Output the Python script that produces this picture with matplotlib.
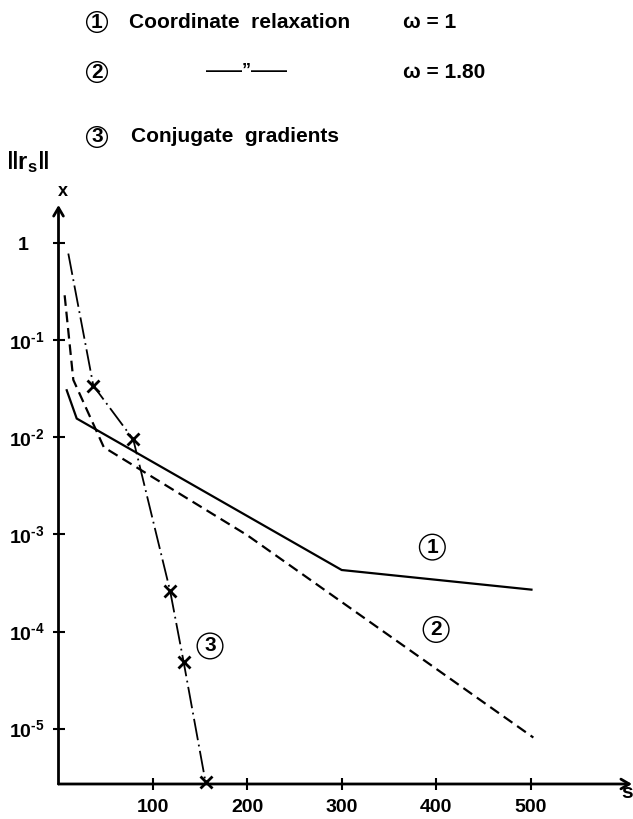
import numpy as np
import matplotlib.pyplot as plt
from matplotlib.ticker import NullLocator

plt.rcParams['font.family'] = ['Liberation Sans', 'DejaVu Sans']
plt.rcParams['mathtext.fontset'] = 'custom'
plt.rcParams['mathtext.rm'] = 'Liberation Sans:bold'
plt.rcParams['mathtext.bf'] = 'Liberation Sans:bold'
plt.rcParams['mathtext.it'] = 'Liberation Sans:italic'

# curve 1: coordinate relaxation, omega = 1
s_relax1 = [8.7, 19.3, 300, 501]
r_relax1 = [3.05e-2, 1.56e-2, 4.3e-4, 2.7e-4]

# curve 2: coordinate relaxation, omega = 1.80
s_relax2 = [6.5, 15.7, 48, 200, 503]
r_relax2 = [2.9e-1, 3.9e-2, 7.9e-3, 9.8e-4, 8.1e-6]

# curve 3: conjugate gradients (crosses on all but the first point)
s_cg = [10.4, 36.9, 79.2, 118.3, 132.5, 155.8]
r_cg = [7.8e-1, 3.4e-2, 9.5e-3, 2.6e-4, 4.9e-5, 2.8e-6]

x_ticks = [100, 200, 300, 400, 500]
y_ticks = [1, 1e-1, 1e-2, 1e-3, 1e-4, 1e-5]
y_labels = ['1   ', '10$^{\u2010 1}$', '10$^{\u2010 2}$', '10$^{\u2010 3}$',
            '10$^{\u2010 4}$', '10$^{\u2010 5}$']

# in-plot curve labels (s, r)
curve_labels = ['1', '2', '3']
label_pos = [(396, 7.4e-4), (400, 1.05e-4), (160.5, 7.1e-5)]

W, H = 633, 819
fig = plt.figure(figsize=(W / 100, H / 100), dpi=100)
ax = fig.add_axes([58.5 / W, 35 / H, (632 - 58.5) / W, (784 - 205) / H])
ax.set_yscale('log')
ax.set_xlim(0, 607.5)
ax.set_ylim(10 ** -5.57, 10 ** 0.392)

ax.plot(s_relax1, r_relax1, color='black', lw=1.6, solid_joinstyle='miter')
ax.plot(s_relax2, r_relax2, color='black', lw=1.6, dashes=(4.8, 2.6))
ax.plot(s_cg, r_cg, color='black', lw=1.3, dashes=(12, 2.5, 1, 2.5),
        marker='x', markersize=8, mew=2, markevery=slice(1, None), clip_on=False)

for sp in ax.spines.values():
    sp.set_visible(False)
arrow = dict(arrowstyle='->,head_length=0.6,head_width=0.35', lw=2, color='black',
             shrinkA=0, shrinkB=0)
ax.annotate('', xy=(0, 1), xytext=(0, 0), xycoords='axes fraction',
            textcoords='axes fraction', arrowprops=arrow)
ax.annotate('', xy=(1, 0), xytext=(0, 0), xycoords='axes fraction',
            textcoords='axes fraction', arrowprops=arrow)

ax.set_xticks(x_ticks)
ax.set_xticklabels([str(t) for t in x_ticks], fontweight='bold')
ax.set_yticks(y_ticks)
ax.set_yticklabels(y_labels, fontweight='bold')
ax.yaxis.set_minor_locator(NullLocator())
ax.tick_params(direction='inout', length=8, width=1.5, labelsize=14)
ax.tick_params(axis='x', pad=7)
ax.tick_params(axis='y', pad=6)

for lab, (xs, yr) in zip(curve_labels, label_pos):
    ax.text(xs, yr, lab, fontsize=15, weight='bold', ha='center', va='center',
            bbox=dict(boxstyle='circle,pad=0.16', fc='none', ec='black', lw=1))

# axis names
fig.text(63 / W, 1 - 191 / H, 'x', fontsize=13, weight='bold', ha='center', va='center')
fig.text(27 / W, 1 - 162 / H, r'$\Vert\mathbf{r}_{\mathbf{s}}\Vert$', fontsize=17,
         ha='center', va='center')
fig.text(621 / W, 1 - 793 / H, 's', fontsize=15, weight='bold', ha='left', va='center')

# legend block at the top
leg_y = [22, 72, 137]
for lab, yy in zip(curve_labels, leg_y):
    fig.text(97 / W, 1 - yy / H, lab, fontsize=15, weight='bold', ha='center', va='center',
             bbox=dict(boxstyle='circle,pad=0.04', fc='none', ec='black', lw=1))
fig.text(129 / W, 1 - 22 / H, 'Coordinate  relaxation', fontsize=15, weight='bold',
         ha='left', va='center')
fig.text(403 / W, 1 - 22 / H, '\u03c9 = 1', fontsize=15, weight='bold', ha='left', va='center')
fig.text(246 / W, 1 - 72 / H, '\u2014\u2014\u201d\u2014\u2014', fontsize=13, weight='bold',
         ha='center', va='center')
fig.text(403 / W, 1 - 72 / H, '\u03c9 = 1.80', fontsize=15, weight='bold', ha='left', va='center')
fig.text(131 / W, 1 - 137 / H, 'Conjugate  gradients', fontsize=15, weight='bold',
         ha='left', va='center')

fig.savefig('out.png', dpi=100)
